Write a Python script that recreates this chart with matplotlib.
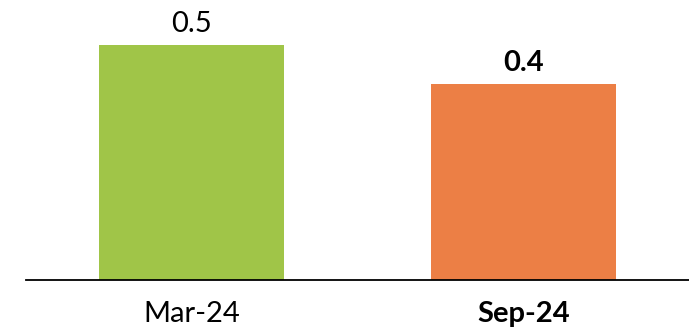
import matplotlib
matplotlib.use("Agg")
import matplotlib.pyplot as plt

# Data
periods = ["Mar-24", "Sep-24"]
values = [0.48, 0.40]
bar_colors = ["#A0C548", "#EC7F45"]
bold_flags = [False, True]

plt.rcParams["font.family"] = ["Lato", "DejaVu Sans"]

fig = plt.figure(figsize=(6.89, 3.28), dpi=100)
ax = fig.add_axes([0.0377, 0.1463, 0.9623, 0.8537])

x = list(range(len(periods)))
bars = ax.bar(x, values, width=0.558, color=bar_colors, zorder=2)

ax.set_xlim(-0.5, 1.5)
ax.set_ylim(0, 0.572)

for rect, v, b in zip(bars, values, bold_flags):
    ax.annotate(f"{v:.1f}",
                xy=(rect.get_x() + rect.get_width() / 2, rect.get_height()),
                xytext=(0, 6), textcoords="offset points",
                ha="center", va="bottom", fontsize=21,
                fontweight="bold" if b else "normal", color="black")

ax.set_xticks(x)
ax.set_xticklabels(periods, fontsize=21)
for lbl, b in zip(ax.get_xticklabels(), bold_flags):
    if b:
        lbl.set_fontweight("bold")
ax.tick_params(axis="x", length=0, pad=15)
ax.set_yticks([])

for side in ["top", "right", "left"]:
    ax.spines[side].set_visible(False)
ax.spines["bottom"].set_linewidth(1.3)
ax.spines["bottom"].set_color("black")

fig.savefig("out.png", dpi=100)
